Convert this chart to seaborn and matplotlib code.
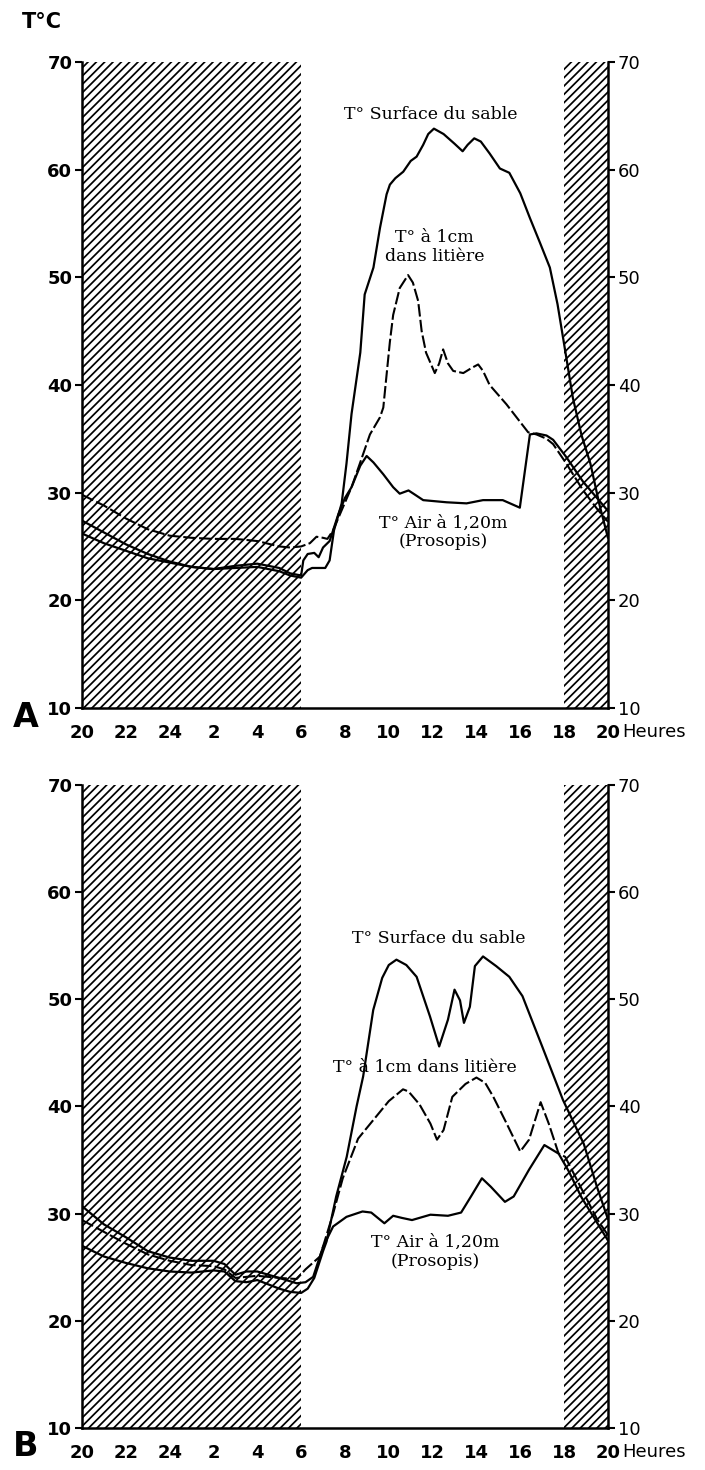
import matplotlib
matplotlib.use("Agg")
import matplotlib.pyplot as plt
import seaborn as sns

# hours on a continuous scale: 20 -> 44 (24 = midnight, 30 = 6h, 36 = 12h ...)
tick_hours = [20, 22, 24, 26, 28, 30, 32, 34, 36, 38, 40, 42, 44]
tick_labels = ["20", "22", "24", "2", "4", "6", "8", "10", "12", "14", "16", "18", "20"]
temp_ticks = [10, 20, 30, 40, 50, 60, 70]
night_spans = [(20, 30), (42, 44)]

# --- A ---
a_sable_h = [20, 21, 22, 23, 24, 25, 26, 27, 28, 29, 29.5, 30, 30.3, 30.5, 31.1, 31.3, 31.5, 31.85,
             32.07, 32.3, 32.7, 32.9, 33.3, 33.6, 33.9, 34.05, 34.3, 34.66, 35.0, 35.27, 35.57, 35.8,
             36.06, 36.5, 37.0, 37.37, 37.6, 37.9, 38.2, 38.6, 39.07, 39.5, 40.0, 40.44, 40.9, 41.35,
             41.7, 42.0, 42.4, 42.8, 43.2, 43.6, 44]
a_sable_t = [26.2, 25.3, 24.6, 23.9, 23.5, 23.1, 22.9, 23.0, 23.1, 22.7, 22.3, 22.1, 22.8, 23.0, 23.0,
             23.7, 26.5, 29.0, 32.7, 37.3, 43.0, 48.4, 50.9, 54.6, 57.7, 58.6, 59.2, 59.8, 60.8, 61.2,
             62.3, 63.3, 63.8, 63.3, 62.4, 61.7, 62.3, 62.9, 62.6, 61.5, 60.1, 59.7, 57.8, 55.5, 53.2,
             50.9, 47.5, 43.8, 38.8, 35.3, 32.7, 29.0, 25.8]

a_litiere_h = [20, 21, 22, 23, 24, 25, 26, 27, 28, 29, 29.5, 30, 30.4, 30.7, 31.0, 31.2, 31.46, 31.9,
               32.3, 32.68, 33.14, 33.6, 33.75, 34.05, 34.2, 34.5, 34.88, 35.1, 35.34, 35.5, 35.7,
               36.1, 36.3, 36.48, 36.7, 36.94, 37.4, 37.8, 38.08, 38.3, 38.6, 39.37, 40.36, 40.74,
               41.2, 41.5, 42.1, 42.87, 43.5, 44]
a_litiere_t = [29.8, 28.8, 27.6, 26.6, 26.0, 25.8, 25.7, 25.7, 25.5, 25.0, 24.9, 25.0, 25.3, 25.9,
               25.8, 25.7, 26.5, 28.6, 30.5, 32.7, 35.4, 37.0, 37.9, 44.0, 46.5, 49.0, 50.2, 49.5,
               47.8, 45.0, 43.0, 41.1, 42.0, 43.3, 42.0, 41.3, 41.1, 41.6, 41.9, 41.3, 40.0, 38.2,
               35.6, 35.4, 35.0, 34.5, 32.7, 30.2, 28.5, 27.3]

a_air_h = [20, 21, 22, 23, 24, 25, 26, 27, 28, 29, 29.5, 30, 30.1, 30.3, 30.6, 30.8, 31.0, 31.3, 31.7,
           32.0, 32.3, 32.7, 32.99, 33.3, 33.75, 34.2, 34.5, 34.9, 35.2, 35.57, 36.64, 37.55, 38.3,
           39.2, 39.98, 40.44, 40.74, 41.2, 41.5, 42.1, 42.87, 43.5, 44]
a_air_t = [27.4, 26.3, 25.2, 24.3, 23.6, 23.1, 22.9, 23.2, 23.4, 23.0, 22.5, 22.3, 23.7, 24.3, 24.4,
           24.0, 24.9, 25.5, 28.0, 29.5, 30.5, 32.5, 33.4, 32.8, 31.7, 30.5, 29.9, 30.2, 29.8, 29.3,
           29.1, 29.0, 29.3, 29.3, 28.6, 35.4, 35.5, 35.3, 34.9, 33.3, 31.0, 29.5, 28.3]

# --- B ---
b_sable_h = [20, 21, 22, 23, 24, 25, 26, 26.5, 27, 27.5, 28, 29, 29.5, 30, 30.3, 30.6, 31.0, 31.16,
             31.6, 32.08, 32.53, 32.83, 33.29, 33.7, 34.0, 34.35, 34.8, 35.27, 35.88, 36.3, 36.7,
             37.0, 37.25, 37.43, 37.7, 37.93, 38.3, 38.9, 39.5, 40.1, 41.0, 41.95, 42.9, 43.5, 44]
b_sable_t = [27.0, 26.0, 25.4, 24.9, 24.6, 24.5, 24.7, 24.6, 23.7, 23.6, 23.8, 23.0, 22.7, 22.6, 23.0,
             24.0, 26.5, 27.4, 31.6, 35.3, 40.0, 42.8, 49.0, 52.0, 53.2, 53.7, 53.2, 52.1, 48.4,
             45.6, 48.1, 50.9, 49.9, 47.8, 49.3, 53.1, 54.0, 53.1, 52.1, 50.3, 45.6, 40.6, 36.5,
             32.5, 29.5]

b_litiere_h = [20, 21, 22, 23, 24, 25, 26, 26.5, 27, 28, 29, 29.8, 30.2, 30.86, 31.46, 31.9, 32.6,
               33.6, 34.0, 34.65, 34.9, 35.4, 35.9, 36.2, 36.5, 36.9, 37.5, 38.0, 38.4, 38.77, 39.38,
               40.0, 40.4, 40.93, 41.3, 41.75, 42.05, 42.5, 43.0, 43.5, 44]
b_litiere_t = [29.4, 28.3, 27.2, 26.2, 25.6, 25.2, 25.1, 24.8, 24.0, 24.2, 24.0, 23.9, 24.8, 26.0,
               30.0, 33.3, 37.0, 39.5, 40.5, 41.6, 41.4, 40.2, 38.4, 36.9, 37.8, 40.9, 42.1, 42.7,
               42.2, 40.9, 38.4, 35.8, 36.9, 40.4, 38.4, 35.6, 35.3, 33.5, 31.5, 29.5, 28.0]

b_air_h = [20, 21, 22, 23, 24, 25, 26, 26.5, 27, 27.5, 28, 29, 29.8, 30.2, 30.55, 31.0, 31.46, 32.07,
           32.8, 33.2, 33.8, 34.2, 34.6, 35.06, 35.9, 36.7, 37.3, 37.75, 38.25, 38.66, 39.3, 39.7,
           40.4, 41.1, 41.75, 42.2, 42.8, 43.4, 44]
b_air_t = [30.7, 29.0, 27.8, 26.5, 25.9, 25.6, 25.6, 25.3, 24.3, 24.6, 24.6, 24.0, 23.5, 23.6, 24.1,
           26.9, 28.8, 29.7, 30.2, 30.1, 29.1, 29.8, 29.6, 29.4, 29.9, 29.8, 30.1, 31.6, 33.3, 32.5,
           31.1, 31.6, 34.1, 36.4, 35.6, 34.0, 31.5, 29.5, 27.5]

sns.set_style("white")
plt.rcParams["font.family"] = ["DejaVu Sans"]
plt.rcParams["hatch.linewidth"] = 1.25
for key in ["text.color", "axes.labelcolor", "xtick.color", "ytick.color", "axes.edgecolor"]:
    plt.rcParams[key] = "black"

serif = "DejaVu Serif"


def draw_panel(ax, sable, litiere, air, labels):
    # hatched night bands
    for x0, x1 in night_spans:
        ax.axvspan(x0, x1, ymin=0, ymax=1, facecolor="white", edgecolor="black",
                   hatch="////", linewidth=0, zorder=0)

    sns.lineplot(x=sable[0], y=sable[1], ax=ax, color="black", lw=1.6,
                 estimator=None, sort=False, zorder=3)
    sns.lineplot(x=air[0], y=air[1], ax=ax, color="black", lw=1.6,
                 estimator=None, sort=False, zorder=3)
    sns.lineplot(x=litiere[0], y=litiere[1], ax=ax, color="black", lw=1.5,
                 estimator=None, sort=False, zorder=3)
    ax.lines[-1].set_dashes((6, 1.6))

    ax.set_xlim(20, 44)
    ax.set_ylim(10, 70)
    ax.set_xticks(tick_hours)
    ax.set_xticklabels(tick_labels, fontweight="bold", fontsize=13)
    ax.set_yticks(temp_ticks)
    ax.set_yticklabels([str(t) for t in temp_ticks], fontweight="bold", fontsize=13)
    ax.set_xlabel("")
    ax.set_ylabel("")
    ax.tick_params(axis="y", direction="out", length=5, width=1.5, pad=2)
    ax.tick_params(axis="x", direction="inout", length=5, width=1.5, pad=9)

    for side in ["left", "bottom"]:
        ax.spines[side].set_linewidth(1.8)
    ax.spines["top"].set_visible(False)
    ax.spines["right"].set_visible(False)

    # right-hand temperature scale
    right = ax.twinx()
    right.set_ylim(10, 70)
    right.set_yticks(temp_ticks)
    right.set_yticklabels([str(t) for t in temp_ticks], fontsize=13)
    right.tick_params(axis="y", direction="out", length=5, width=1.5, pad=2)
    right.spines["right"].set_linewidth(1.8)
    for side in ["left", "top", "bottom"]:
        right.spines[side].set_visible(False)

    ax.annotate("Heures", xy=(1, 0), xycoords="axes fraction", xytext=(10, -11),
                textcoords="offset points", ha="left", va="top", fontsize=13)

    for (tx, ty, txt) in labels:
        ax.text(tx, ty, txt, family=serif, fontsize=12.5, ha="center", va="center",
                linespacing=1.15, zorder=4)


fig = plt.figure(figsize=(7.05, 14.7), dpi=100)
ax_a = fig.add_axes([0.1163, 0.5184, 0.746, 0.4395])
ax_b = fig.add_axes([0.1163, 0.0286, 0.746, 0.4374])

draw_panel(ax_a, (a_sable_h, a_sable_t), (a_litiere_h, a_litiere_t), (a_air_h, a_air_t),
           [(35.9, 65.1, "T° Surface du sable"),
            (36.1, 52.8, "T° à 1cm\ndans litière"),
            (36.5, 26.3, "T° Air à 1,20m\n(Prosopis)")])
draw_panel(ax_b, (b_sable_h, b_sable_t), (b_litiere_h, b_litiere_t), (b_air_h, b_air_t),
           [(36.3, 55.7, "T° Surface du sable"),
            (35.65, 43.6, "T° à 1cm dans litière"),
            (36.1, 26.4, "T° Air à 1,20m\n(Prosopis)")])

fig.text(0.031, 0.985, "T°C", fontsize=15, fontweight="bold", ha="left", va="center")
fig.text(0.018, 0.512, "A", fontsize=24, fontweight="bold", ha="left", va="center")
fig.text(0.018, 0.016, "B", fontsize=24, fontweight="bold", ha="left", va="center")

fig.savefig("out.png", dpi=100)
